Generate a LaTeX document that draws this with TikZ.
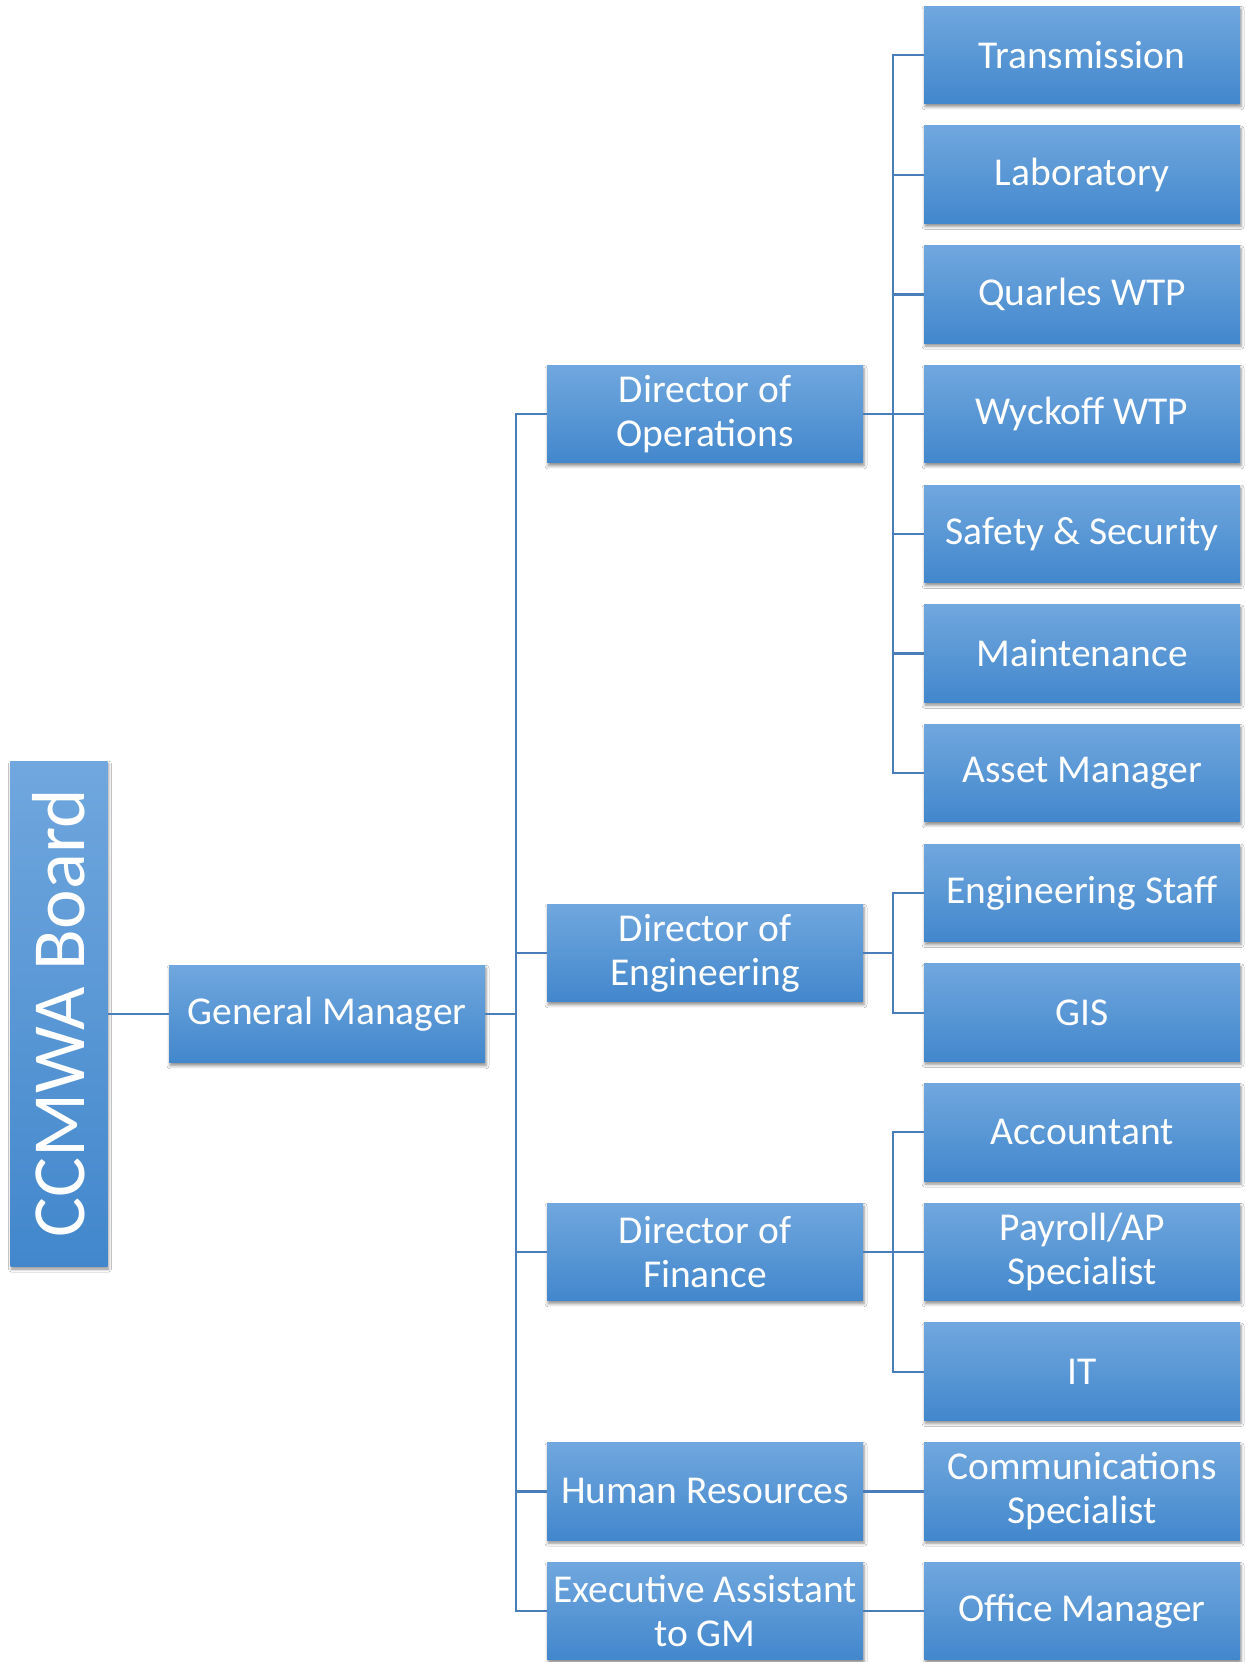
\documentclass[tikz,border=0pt]{standalone}
\usepackage{fontspec}
\setmainfont{Carlito}
\usetikzlibrary{shadows.blur}
\definecolor{boxtop}{RGB}{112,167,222}
\definecolor{boxbot}{RGB}{66,135,204}
\definecolor{linkc}{RGB}{74,126,187}
\tikzset{
  orgbox/.style={rectangle, minimum width=316pt, minimum height=97.5pt, inner sep=0pt,
    top color=boxtop, bottom color=boxbot, draw=none, text=white, align=center,
    font=\fontsize{39.5}{44}\selectfont,
    blur shadow={shadow xshift=1pt, shadow yshift=-3pt, shadow opacity=45, shadow blur radius=3pt}},
  boardbox/.style={rectangle, minimum width=97pt, minimum height=505pt, inner sep=0pt,
    top color=boxtop, bottom color=boxbot, draw=none, text=white,
    font=\fontsize{75}{80}\selectfont,
    blur shadow={shadow xshift=1pt, shadow yshift=-3pt, shadow opacity=45, shadow blur radius=3pt}},
  link/.style={draw=linkc, line width=2.2pt}
}
\begin{document}
\begin{tikzpicture}[x=1pt,y=-1pt]
\useasboundingbox[fill=white] (0,0) rectangle (1246,1662);
\def\pitch{119.7}
% board and GM
\node[boardbox] (board) at (59,1013.5) {\rotatebox{90}{CCMWA Board}};
\node[orgbox] (gm) at (327,1014) {General Manager};
% directors
\node[orgbox] (dops) at (705,{55+3*\pitch}) {Director of\\Operations};
\node[orgbox] (deng) at (705,953) {Director of\\Engineering};
\node[orgbox] (dfin) at (705,{55+10*\pitch}) {Director of\\Finance};
\node[orgbox] (hr) at (705,{55+12*\pitch}) {Human Resources};
\node[orgbox] (ea) at (705,{55+13*\pitch}) {Executive Assistant\\to GM};
% right column
\node[orgbox] (trans) at (1082,{55+0*\pitch}) {Transmission};
\node[orgbox] (lab) at (1082,{55+1*\pitch}) {Laboratory};
\node[orgbox] (quar) at (1082,{55+2*\pitch}) {Quarles WTP};
\node[orgbox] (wyck) at (1082,{55+3*\pitch}) {Wyckoff WTP};
\node[orgbox] (safe) at (1082,{55+4*\pitch}) {Safety \& Security};
\node[orgbox] (main) at (1082,{55+5*\pitch}) {Maintenance};
\node[orgbox] (asset) at (1082,{55+6*\pitch}) {Asset Manager};
\node[orgbox] (estaff) at (1082,{55+7*\pitch}) {Engineering Staff};
\node[orgbox] (gis) at (1082,{55+8*\pitch}) {GIS};
\node[orgbox] (acct) at (1082,{55+9*\pitch}) {Accountant};
\node[orgbox] (pay) at (1082,{55+10*\pitch}) {Payroll/AP\\Specialist};
\node[orgbox] (it) at (1082,{55+11*\pitch}) {IT};
\node[orgbox] (comm) at (1082,{55+12*\pitch}) {Communications\\Specialist};
\node[orgbox] (office) at (1082,{55+13*\pitch}) {Office Manager};
% trunk coordinates
\coordinate (t) at (516,0);
\coordinate (b) at (893,0);
\draw[link] (board.east |- gm.west) -- (gm.west);
\draw[link] (gm.east) -- (gm.east -| t);
\draw[link] (dops.west) -- (dops.west -| t) -- (ea.west -| t) -- (ea.west);
\draw[link] (deng.west) -- (deng.west -| t);
\draw[link] (dfin.west) -- (dfin.west -| t);
\draw[link] (hr.west) -- (hr.west -| t);
% operations
\draw[link] (dops.east) -- (dops.east -| b);
\draw[link] (trans.west) -- (trans.west -| b) -- (asset.west -| b) -- (asset.west);
\draw[link] (lab.west) -- (lab.west -| b);
\draw[link] (quar.west) -- (quar.west -| b);
\draw[link] (wyck.west) -- (wyck.west -| b);
\draw[link] (safe.west) -- (safe.west -| b);
\draw[link] (main.west) -- (main.west -| b);
% engineering
\draw[link] (deng.east) -- (deng.east -| b);
\draw[link] (estaff.west) -- (estaff.west -| b) -- (gis.west -| b) -- (gis.west);
% finance
\draw[link] (dfin.east) -- (dfin.east -| b);
\draw[link] (acct.west) -- (acct.west -| b) -- (it.west -| b) -- (it.west);
\draw[link] (pay.west) -- (pay.west -| b);
% HR and EA
\draw[link] (hr.east) -- (comm.west);
\draw[link] (ea.east) -- (office.west);
\end{tikzpicture}
\end{document}
